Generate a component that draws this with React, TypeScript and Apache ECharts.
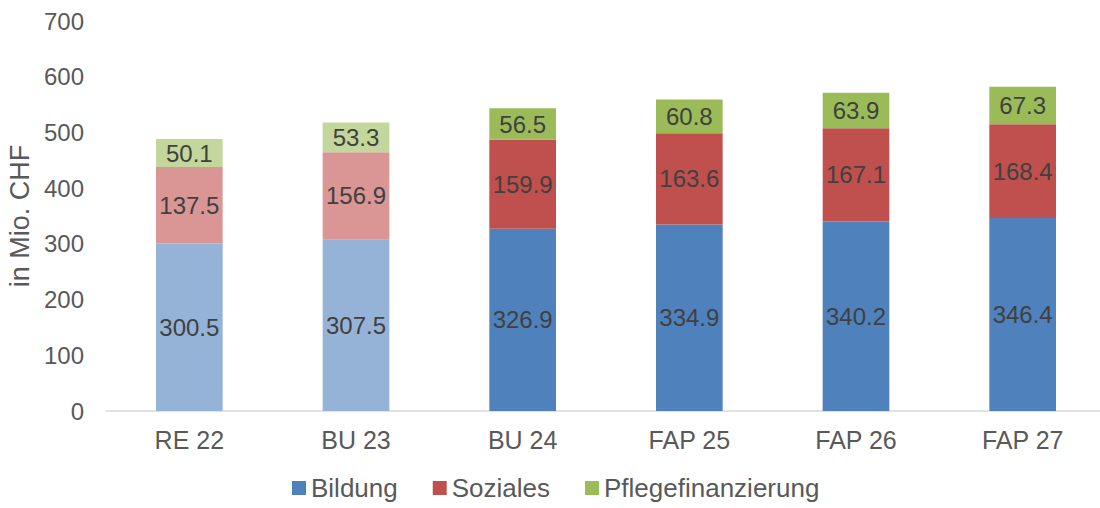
import React, { useEffect, useRef } from "react";
import * as echarts from "echarts";

const categories = ["RE 22", "BU 23", "BU 24", "FAP 25", "FAP 26", "FAP 27"];
const bildung = [300.5, 307.5, 326.9, 334.9, 340.2, 346.4];
const soziales = [137.5, 156.9, 159.9, 163.6, 167.1, 168.4];
const pflege = [50.1, 53.3, 56.5, 60.8, 63.9, 67.3];
const lightCount = 2; // first categories drawn in lighter shade
const yTicks = { min: 0, max: 700, interval: 100 };

const seriesDefs = [
  { name: "Bildung", data: bildung, color: "#4F81BD", light: "#95B3D7" },
  { name: "Soziales", data: soziales, color: "#C0504D", light: "#D99694" },
  { name: "Pflegefinanzierung", data: pflege, color: "#9BBB59", light: "#C3D69B" },
];

export default function App() {
  const ref = useRef<HTMLDivElement>(null);
  useEffect(() => {
    if (!ref.current) return;
    const chart = echarts.init(ref.current, undefined, { renderer: "svg" });
    const font = "'Liberation Sans', Arial, sans-serif";
    chart.setOption({
      animation: false,
      textStyle: { fontFamily: font },
      grid: {
        left: 106,
        top: 21,
        right: -6,
        bottom: 97,
        containLabel: false,
        outerBoundsMode: "none",
      },
      legend: {
        data: seriesDefs.map((s) => s.name),
        left: 292,
        top: 474,
        itemWidth: 14,
        itemHeight: 14,
        itemGap: 35,
        icon: "rect",
        padding: 0,
        textStyle: { fontSize: 26, lineHeight: 28, color: "#595959", fontFamily: font },
      },
      xAxis: {
        type: "category",
        data: categories,
        axisLine: { lineStyle: { color: "#D9D9D9", width: 1.5 } },
        axisTick: { show: false },
        axisLabel: { fontSize: 25, color: "#595959", margin: 16, fontFamily: font },
      },
      yAxis: {
        type: "value",
        min: yTicks.min,
        max: yTicks.max,
        interval: yTicks.interval,
        name: "in Mio. CHF",
        nameLocation: "middle",
        nameGap: 72,
        nameRotate: 90,
        nameTextStyle: { fontSize: 27, color: "#595959", fontFamily: font },
        axisLine: { show: false },
        axisTick: { show: false },
        splitLine: { show: false },
        axisLabel: { fontSize: 24, color: "#595959", margin: 22, fontFamily: font },
      },
      series: seriesDefs.map((s) => ({
        name: s.name,
        type: "bar",
        stack: "total",
        barWidth: "40%",
        itemStyle: { color: s.color },
        data: s.data.map((v, i) => ({
          value: v,
          itemStyle: { color: i < lightCount ? s.light : s.color },
        })),
        label: {
          show: true,
          position: "inside",
          fontSize: 24,
          color: "#404040",
          fontFamily: font,
          formatter: (p: any) => Number(p.value).toFixed(1),
        },
      })),
    });
    return () => chart.dispose();
  }, []);
  return (
    <div
      ref={ref}
      style={{ position: "absolute", left: 0, top: 0, width: 1100, height: 508 }}
    />
  );
}
